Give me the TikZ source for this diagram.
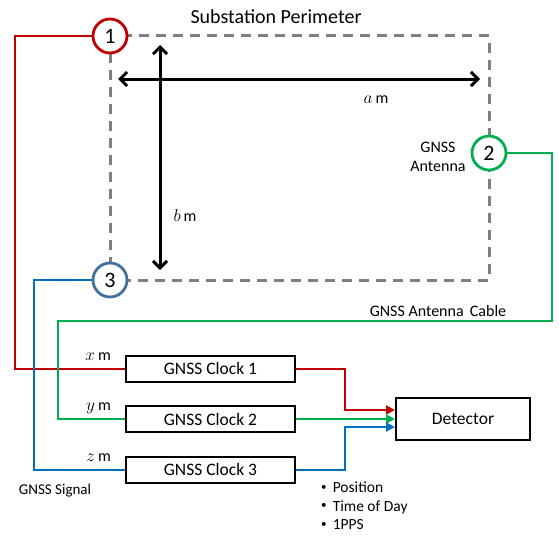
\documentclass[tikz,border=0pt]{standalone}
\usepackage{fontspec}
\setmainfont{Carlito}
\usepackage{tikz}
\usetikzlibrary{arrows.meta,positioning,calc}

\definecolor{sigred}{HTML}{C00000}
\definecolor{siggreen}{HTML}{00B050}
\definecolor{sigblue}{HTML}{0070C0}
\definecolor{antblue}{HTML}{41719C}
\definecolor{perigray}{HTML}{7F7F7F}

\begin{document}
\begin{tikzpicture}[
  x=1pt, y=-1pt,
  antenna/.style={circle, draw, line width=2.8pt, fill=white, minimum size=34pt, inner sep=0pt, font=\fontsize{22}{24}\selectfont},
  clockbox/.style={rectangle, draw, line width=2pt, minimum width=169pt, minimum height=26pt, inner sep=0pt, font=\fontsize{17.5}{19}\selectfont},
  perimeter/.style={draw=perigray, line width=3pt, dash pattern=on 10pt off 7pt},
  dimarrow/.style={line width=3pt, {Straight Barb[length=7pt,width=14pt]}-{Straight Barb[length=7pt,width=14pt]}},
  cable/.style={line width=2pt},
  feed/.style={line width=2pt, -{Triangle[length=9pt,width=9pt]}},
  lbl/.style={font=\fontsize{16}{19}\selectfont, inner sep=0pt},
  dimlbl/.style={font=\fontsize{18}{19}\selectfont, inner sep=0pt}
]
\useasboundingbox (0,0) rectangle (559,535);

% perimeter and dimensions
\draw[perimeter] (110,36) rectangle (489,280);
\node[font=\fontsize{20}{22}\selectfont] (title) at (276,17) {Substation Perimeter};
\draw[dimarrow] (118,79) -- (480,79);
\draw[dimarrow] (160,45) -- (160,270);
\node[dimlbl] (alen) at (376,100) {$a$\,{\fontsize{16}{19}\selectfont m}};
\node[dimlbl] (blen) at (185,215) {$b$\,{\fontsize{16}{19}\selectfont m}};

% antennas
\node[antenna, draw=sigred] (ant1) at (110,36) {1};
\node[antenna, draw=siggreen] (ant2) at (489,153) {2};
\node[antenna, draw=antblue] (ant3) at (110,280) {3};
\node[lbl, align=center] (antlbl) at (438,157) {GNSS\\Antenna};

% clocks and detector
\node[clockbox] (clk1) at (210.5,368.5) {GNSS Clock 1};
\node[clockbox] (clk2) at (210.5,419) {GNSS Clock 2};
\node[clockbox] (clk3) at (210.5,469.5) {GNSS Clock 3};
\node[clockbox, minimum width=134pt, minimum height=42pt] (det) at (463,419) {Detector};

% antenna cables
\draw[cable, sigred] (ant1.west) -- ++(-77,0) |- (clk1.west);
\draw[cable, siggreen] (ant2.east) -| (552,321) -- (58,321) |- (clk2.west);
\draw[cable, sigblue] (ant3.west) -- ++(-58,0) |- (clk3.west);
\node[lbl] (cablelbl) at (438,311) {GNSS Antenna\ \,Cable};
\node[dimlbl, anchor=east] (xlen) at (111,357) {$x$\,{\fontsize{16}{19}\selectfont m}};
\node[dimlbl, anchor=east] (ylen) at (111,408) {$y$\,{\fontsize{16}{19}\selectfont m}};
\node[dimlbl, anchor=east] (zlen) at (111,458) {$z$\,{\fontsize{16}{19}\selectfont m}};
\node[lbl, font=\fontsize{15}{18}\selectfont] (siglbl) at (55,491) {GNSS Signal};

% outputs to detector
\draw[feed, sigred] (clk1.east) -| (345,410) -- ([yshift=9pt]det.west);
\draw[feed, siggreen] (clk2.east) -- (det.west);
\draw[feed, sigblue] (clk3.east) -| (345,427) -- ([yshift=-8pt]det.west);
\node[lbl, font=\fontsize{15.5}{18.5}\selectfont, align=left, anchor=north west] (outlist) at (321,482)
  {\raisebox{0.35ex}{\fontsize{11}{12}\selectfont\textbullet}\ \,Position\\
   \raisebox{0.35ex}{\fontsize{11}{12}\selectfont\textbullet}\ \,Time of Day\\
   \raisebox{0.35ex}{\fontsize{11}{12}\selectfont\textbullet}\ \,1PPS};
\end{tikzpicture}
\end{document}
